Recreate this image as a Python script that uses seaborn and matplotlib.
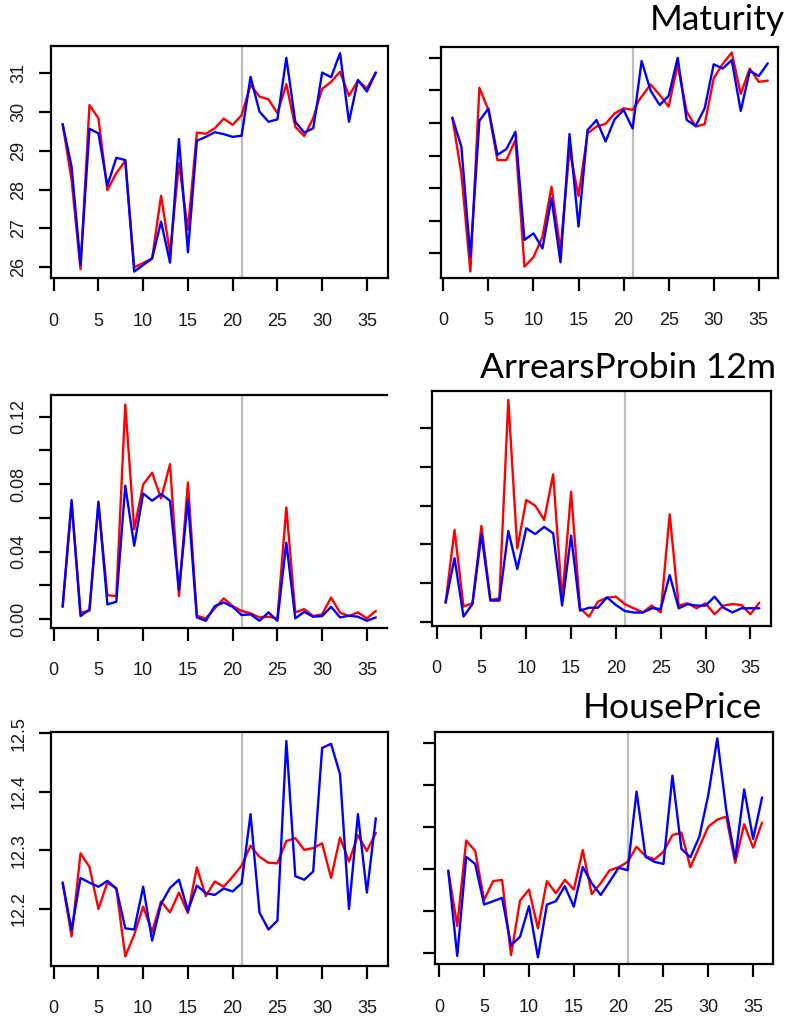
import numpy as np
import pandas as pd
import matplotlib
matplotlib.use("Agg")
import matplotlib.pyplot as plt
import seaborn as sns

# ---------------- data ----------------
t = list(range(1, 37))
split_at = 21

titles = ["Maturity", "ArrearsProbin 12m", "HousePrice"]

mat_left_red = [29.69, 28.25, 25.94, 30.18, 29.84, 27.98, 28.42, 28.74, 25.99, 26.10,
                26.22, 27.84, 26.35, 28.68, 26.96, 29.47, 29.44, 29.58, 29.83, 29.67,
                29.92, 30.70, 30.40, 30.33, 29.97, 30.72, 29.62, 29.38, 29.84, 30.60,
                30.78, 31.04, 30.42, 30.81, 30.61, 31.02]
mat_left_blue = [29.69, 28.59, 26.05, 29.57, 29.45, 28.10, 28.82, 28.76, 25.88, 26.05,
                 26.22, 27.17, 26.11, 29.30, 26.38, 29.26, 29.36, 29.48, 29.43, 29.36,
                 29.39, 30.91, 30.01, 29.75, 29.81, 31.40, 29.75, 29.47, 29.58, 31.02,
                 30.90, 31.52, 29.75, 30.83, 30.53, 31.02]
mat_right_red = [30.16, 28.45, 25.44, 31.08, 30.40, 28.86, 28.86, 29.48, 25.59, 25.88,
                 26.51, 28.04, 26.10, 29.17, 27.76, 29.68, 29.89, 29.97, 30.29, 30.45,
                 30.40, 30.81, 31.18, 30.86, 30.50, 31.78, 30.35, 29.89, 29.96, 31.37,
                 31.81, 32.16, 30.89, 31.67, 31.26, 31.30]
mat_right_blue = [30.16, 29.27, 25.88, 30.07, 30.44, 29.02, 29.20, 29.73, 26.41, 26.61,
                  26.15, 27.69, 25.72, 29.66, 26.82, 29.78, 30.09, 29.43, 30.11, 30.40,
                  29.83, 31.90, 30.99, 30.55, 30.83, 32.00, 30.09, 29.91, 30.45, 31.80,
                  31.67, 31.93, 30.37, 31.60, 31.44, 31.83]

arr_left_red = [0.0073, 0.0686, 0.0038, 0.0049, 0.0686, 0.0142, 0.0136, 0.1273, 0.0532, 0.0798,
                0.0868, 0.0715, 0.0919, 0.0136, 0.0810, 0.0020, 0.0004, 0.0063, 0.0123, 0.0077,
                0.0049, 0.0034, 0.0010, 0.0014, 0.0004, 0.0662, 0.0040, 0.0059, 0.0018, 0.0028,
                0.0128, 0.0038, 0.0018, 0.0040, 0.0004, 0.0049]
arr_left_blue = [0.0073, 0.0706, 0.0018, 0.0057, 0.0696, 0.0087, 0.0103, 0.0791, 0.0435, 0.0745,
                 0.0702, 0.0741, 0.0702, 0.0172, 0.0706, 0.0010, -0.0010, 0.0077, 0.0099, 0.0073,
                 0.0024, 0.0028, -0.0010, 0.0040, -0.0010, 0.0453, 0.0004, 0.0043, 0.0014, 0.0018,
                 0.0073, 0.0010, 0.0020, 0.0014, -0.0010, 0.0010]
arr_right_red = [0.0098, 0.0474, 0.0078, 0.0095, 0.0495, 0.0112, 0.0121, 0.1147, 0.0379, 0.0629,
                 0.0600, 0.0526, 0.0762, 0.0112, 0.0672, 0.0069, 0.0026, 0.0103, 0.0124, 0.0129,
                 0.0090, 0.0069, 0.0048, 0.0083, 0.0048, 0.0555, 0.0083, 0.0095, 0.0069, 0.0095,
                 0.0038, 0.0083, 0.0091, 0.0086, 0.0038, 0.0098]
arr_right_blue = [0.0098, 0.0328, 0.0026, 0.0091, 0.0452, 0.0109, 0.0109, 0.0469, 0.0272, 0.0483,
                  0.0453, 0.0490, 0.0457, 0.0083, 0.0445, 0.0057, 0.0072, 0.0072, 0.0126, 0.0086,
                  0.0055, 0.0047, 0.0047, 0.0069, 0.0066, 0.0241, 0.0069, 0.0090, 0.0083, 0.0083,
                  0.0129, 0.0072, 0.0048, 0.0069, 0.0069, 0.0069]

hp_left_red = [12.245, 12.153, 12.295, 12.272, 12.200, 12.245, 12.235, 12.119, 12.156, 12.204,
               12.161, 12.213, 12.194, 12.228, 12.193, 12.271, 12.222, 12.247, 12.238, 12.255,
               12.274, 12.308, 12.289, 12.279, 12.278, 12.316, 12.321, 12.301, 12.304, 12.312,
               12.253, 12.322, 12.281, 12.326, 12.299, 12.330]
hp_left_blue = [12.245, 12.164, 12.253, 12.245, 12.238, 12.248, 12.235, 12.167, 12.165, 12.238,
                12.146, 12.209, 12.236, 12.250, 12.197, 12.240, 12.227, 12.224, 12.235, 12.230,
                12.244, 12.362, 12.194, 12.165, 12.180, 12.487, 12.256, 12.250, 12.264, 12.475,
                12.482, 12.430, 12.200, 12.362, 12.228, 12.355]
hp_right_red = [12.196, 12.064, 12.268, 12.243, 12.126, 12.171, 12.174, 11.994, 12.124, 12.151,
                12.058, 12.171, 12.142, 12.174, 12.151, 12.245, 12.140, 12.166, 12.197, 12.204,
                12.217, 12.253, 12.231, 12.223, 12.241, 12.281, 12.287, 12.204, 12.253, 12.301,
                12.318, 12.325, 12.215, 12.307, 12.251, 12.311]
hp_right_blue = [12.196, 11.992, 12.229, 12.212, 12.115, 12.123, 12.131, 12.018, 12.038, 12.111,
                 11.989, 12.115, 12.123, 12.159, 12.110, 12.205, 12.166, 12.138, 12.170, 12.203,
                 12.197, 12.385, 12.229, 12.217, 12.212, 12.423, 12.248, 12.228, 12.277, 12.377,
                 12.512, 12.341, 12.225, 12.390, 12.272, 12.371]

xticks = [0, 5, 10, 15, 20, 25, 30, 35]

# y ticks per panel (row, col)
yticks_left = [[26, 27, 28, 29, 30, 31],
               [0.00, 0.02, 0.04, 0.06, 0.08, 0.10, 0.12],
               [12.2, 12.3, 12.4, 12.5]]
ylabels_left = [["26", "27", "28", "29", "30", "31"],
                ["0.00", "", "0.04", "", "0.08", "", "0.12"],
                ["12.2", "12.3", "12.4", "12.5"]]
yticks_right = [[26, 27, 28, 29, 30, 31, 32],
                [0.00, 0.02, 0.04, 0.06, 0.08, 0.10],
                [12.0, 12.1, 12.2, 12.3, 12.4, 12.5]]

panels = [
    [(mat_left_red, mat_left_blue), (mat_right_red, mat_right_blue)],
    [(arr_left_red, arr_left_blue), (arr_right_red, arr_right_blue)],
    [(hp_left_red, hp_left_blue), (hp_right_red, hp_right_blue)],
]

# ---------------- layout (pixels) ----------------
W, H = 791, 1016
boxes = [  # x0, x1, ytop, ybottom
    [(51, 388, 45.7, 278.3), (441, 777.7, 46.7, 277.7)],
    [(51, 387, 395, 627.7), (432.3, 771, 391, 625.7)],
    [(51, 388, 732.3, 965.7), (435, 773.3, 731.7, 964)],
]
xlims = [[(-0.3, 37.36), (-0.26, 37.1)],
         [(-0.3, 37.25), (-0.48, 37.3)],
         [(-0.3, 37.36), (-0.48, 37.25)]]
ylims = [[(25.707, 31.714), (25.25, 32.34)],
         [(-0.0051, 0.1329), (-0.0021, 0.1193)],
         [(12.1032, 12.5017), (11.973, 12.528)]]
title_pos = [(785, 20), (776, 368), (762, 708)]

sns.set_theme(style="white")
plt.rcParams["font.family"] = ["Liberation Sans", "DejaVu Sans"]

fig = plt.figure(figsize=(W / 100, H / 100), dpi=100)
pal = {"red": "#FF0000", "blue": "#0000FF"}

for r in range(3):
    for c in range(2):
        x0, x1, yt, yb = boxes[r][c]
        ax = fig.add_axes([x0 / W, 1 - yb / H, (x1 - x0) / W, (yb - yt) / H])
        red, blue = panels[r][c]
        df = pd.DataFrame({
            "t": t + t,
            "v": list(red) + list(blue),
            "s": ["red"] * len(t) + ["blue"] * len(t),
        })
        ax.axvline(split_at, color="#BEBEBE", lw=1.6, zorder=1)
        sns.lineplot(data=df, x="t", y="v", hue="s", palette=pal, legend=False,
                     ax=ax, lw=1.7, sort=False, estimator=None, zorder=3)
        ax.set_xlim(*xlims[r][c])
        ax.set_ylim(*ylims[r][c])
        ax.set_xlabel("")
        ax.set_ylabel("")
        ax.set_xticks(xticks)
        ax.set_xticklabels([str(v) for v in xticks], fontsize=13)
        if c == 0:
            ax.set_yticks(yticks_left[r])
            ax.set_yticklabels(ylabels_left[r], fontsize=13, rotation=90, va="center")
        else:
            ax.set_yticks(yticks_right[r])
            ax.set_yticklabels([])
        ax.tick_params(axis="both", direction="out", length=9, width=1.6,
                       color="black", bottom=True, left=True, labelcolor="#1a1a1a")
        ax.tick_params(axis="x", pad=16)
        ax.tick_params(axis="y", pad=8)
        for sp in ax.spines.values():
            sp.set_visible(True)
            sp.set_color("black")
            sp.set_linewidth(1.6)
        if r == 1 and c == 0:
            ax.spines["right"].set_visible(False)
        ax.set_facecolor("white")
        ax.grid(False)

for (tx, ty), ttl in zip(title_pos, titles):
    fig.text(tx / W, 1 - ty / H, ttl, ha="right", va="center", fontsize=25.5,
             family=["Lato", "DejaVu Sans"], color="black")

fig.savefig("out.png", dpi=100, facecolor="white")
